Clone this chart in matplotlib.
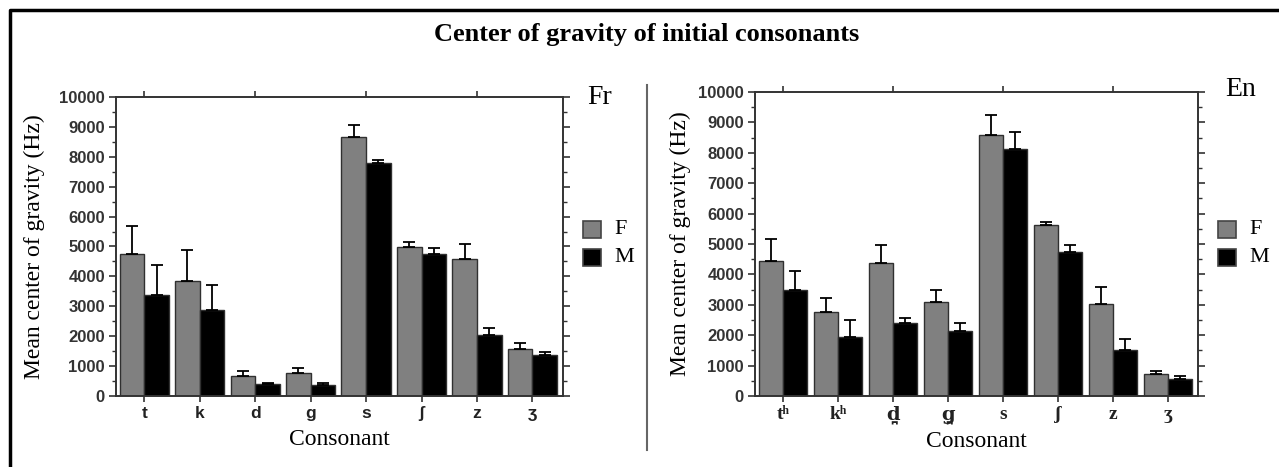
import matplotlib
matplotlib.use("Agg")
import matplotlib.pyplot as plt
from matplotlib.ticker import MultipleLocator
from matplotlib.patches import Rectangle
from matplotlib.lines import Line2D
import numpy as np

# ---- data ----
fr_labels = ["t", "k", "d", "g", "s", "ʃ", "z", "ʒ"]
fr_F = [4750, 3850, 680, 780, 8670, 4980, 4570, 1560]
fr_F_err = [930, 1030, 160, 170, 380, 180, 520, 210]
fr_M = [3390, 2880, 390, 380, 7800, 4740, 2040, 1360]
fr_M_err = [990, 820, 40, 50, 90, 200, 250, 100]

en_labels = ["tʰ", "kʰ", "d̪", "g̪", "s", "ʃ", "z", "ʒ"]
en_F = [4430, 2760, 4380, 3080, 8600, 5630, 3020, 720]
en_F_err = [720, 460, 580, 420, 650, 110, 560, 110]
en_M = [3500, 1930, 2390, 2130, 8140, 4740, 1520, 570]
en_M_err = [610, 570, 170, 260, 530, 220, 350, 100]

series_names = ["F", "M"]
series_colors = ["#808080", "#000000"]

W, H = 1279, 467
fig = plt.figure(figsize=(W / 100, H / 100), dpi=100)

SERIF = ["Liberation Serif", "DejaVu Serif"]
SANS = ["Liberation Sans", "DejaVu Sans"]
spine_c = "#333333"

def px(x0, y0, x1, y1):
    return [x0 / W, 1 - y1 / H, (x1 - x0) / W, (y1 - y0) / H]

def panel(rect, labels, F, Ferr, M, Merr, tag, tagpos, legpos, xlab_font, bw, ylpad, xlpad):
    ax = fig.add_axes(rect)
    x = np.arange(len(labels))
    ax.bar(x - bw / 2, F, width=bw, color=series_colors[0], edgecolor="#303030", linewidth=1.0, zorder=2)
    ax.bar(x + bw / 2, M, width=bw, color=series_colors[1], edgecolor="#303030", linewidth=1.0, zorder=2)
    ax.errorbar(x - bw / 2, F, yerr=[np.zeros(len(F)), Ferr], fmt="none", ecolor="black",
                elinewidth=1.3, capsize=4, capthick=1.3, zorder=3)
    ax.errorbar(x + bw / 2, M, yerr=[np.zeros(len(M)), Merr], fmt="none", ecolor="black",
                elinewidth=1.3, capsize=4, capthick=1.3, zorder=3)
    ax.set_xlim(-0.51, 7.55)
    ax.set_ylim(0, 10000)
    ax.yaxis.set_major_locator(MultipleLocator(1000))
    ax.yaxis.set_minor_locator(MultipleLocator(500))
    ax.set_xticks(x)
    ax.set_xticklabels(labels)
    for s in ax.spines.values():
        s.set_color(spine_c)
        s.set_linewidth(1.4)
    ax.tick_params(axis="y", which="major", direction="out", length=5, width=1.2, color=spine_c,
                   left=True, right=True, labelsize=12, labelcolor="#333333", pad=3)
    ax.tick_params(axis="y", which="minor", direction="out", length=3, width=1.0, color=spine_c,
                   left=True, right=True)
    ax.tick_params(axis="x", which="major", direction="out", length=4, width=1.2, color=spine_c,
                   bottom=True, top=False, pad=3)
    for lab in ax.get_yticklabels():
        lab.set_family(SANS)
        lab.set_fontweight("bold")
    for lab in ax.get_xticklabels():
        fam = xlab_font[0]
        if "\u032a" in lab.get_text():
            fam = ["DejaVu Serif"]
        lab.set_family(fam)
        lab.set_fontweight("bold")
        lab.set_fontsize(xlab_font[1])
        lab.set_color("#222222")
    sec = ax.secondary_xaxis("top")
    sec.set_xticks([0, 2, 4, 6])
    sec.set_xticklabels([])
    sec.tick_params(direction="out", length=4, width=1.2, color=spine_c)
    sec.spines["top"].set_visible(False)
    ax.set_ylabel("Mean center of gravity (Hz)", family=SERIF, fontsize=17, labelpad=ylpad)
    ax.set_xlabel("Consonant", family=SERIF, fontsize=17, labelpad=xlpad)
    fig.text(tagpos[0] / W, 1 - tagpos[1] / H, tag, family=SERIF, fontsize=20,
             ha="left", va="center")
    lx, ly = legpos
    for i, (nm, c) in enumerate(zip(series_names, series_colors)):
        y0 = ly + i * 28
        fig.patches.append(Rectangle((lx / W, 1 - (y0 + 17) / H), 18 / W, 17 / H,
                                     transform=fig.transFigure, facecolor=c,
                                     edgecolor="#444444", linewidth=1.2))
        fig.text((lx + 31) / W, 1 - (y0 + 8.5) / H, nm, family=SERIF, fontsize=16,
                 ha="left", va="center")
    return ax

panel(px(116, 97, 563, 396), fr_labels, fr_F, fr_F_err, fr_M, fr_M_err,
      "Fr", (587, 97), (583, 221), (SANS, 12.5), 0.445, 10, 6)
panel(px(755, 92, 1198, 396), en_labels, en_F, en_F_err, en_M, en_M_err,
      "En", (1225, 89), (1218, 221), (SERIF, 14), 0.435, 5, 5)

fig.text(647 / W, 1 - 34 / H, "Center of gravity of initial consonants", family=SERIF,
         fontsize=19, fontweight="bold", ha="center", va="center")

fig.add_artist(Line2D([647 / W, 647 / W], [1 - 85 / H, 1 - 450 / H], color="#666666",
                      linewidth=1.5, transform=fig.transFigure))
fig.add_artist(Line2D([10 / W, 10 / W, 1.0], [0.0, 1 - 10 / H, 1 - 10 / H], color="black",
                      linewidth=2.5, transform=fig.transFigure))

fig.savefig("out.png", dpi=100)
